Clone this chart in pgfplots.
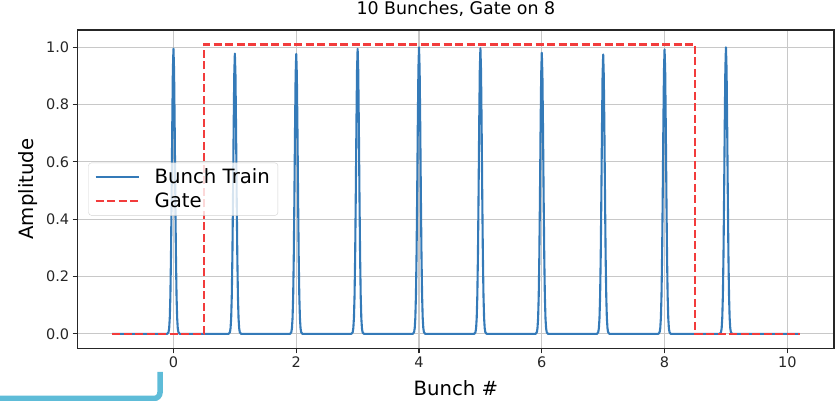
\documentclass[border=0pt]{standalone}
\usepackage{pgfplots}
\pgfplotsset{compat=1.18}
\usepackage{fontspec}
\setmainfont{DejaVu Sans}
\definecolor{bt}{RGB}{52,122,184}
\definecolor{gt}{RGB}{242,60,60}
\definecolor{gridc}{RGB}{200,200,200}
\definecolor{hl}{RGB}{94,188,216}
\begin{document}
\begin{tikzpicture}[x=1pt,y=1pt]
\path[use as bounding box] (0,0) rectangle (839,401);
\draw[hl, line width=5.5pt, rounded corners=6pt] (-5,2.5) -- (160,2.5) -- (160,29);
\begin{axis}[
 at={(77.7pt,52.7pt)}, anchor=south west,
 scale only axis, width=756.3pt, height=318.3pt,
 xmin=-1.56, xmax=10.76, ymin=-0.0505, ymax=1.0605,
 xtick={0,2,4,6,8,10}, ytick={0,0.2,0.4,0.6,0.8,1},
 yticklabel style={/pgf/number format/.cd, fixed, fixed zerofill, precision=1},
 /pgf/number format/assume math mode=true,
 tick label style={font=\fontsize{14.5}{17}\selectfont, color=black!85},
 tick align=outside, major tick length=5pt,
 tick style={black!85, line width=1.1pt},
 xtick pos=left, ytick pos=left,
 axis line style={black!85, line width=1.1pt},
 grid=major, major grid style={gridc, line width=1.1pt},
 title={10 Bunches, Gate on 8},
 title style={at={(axis description cs:0.5,1.0292)}, anchor=base, font=\fontsize{17.4}{20}\selectfont},
 xlabel={Bunch \#},
 xlabel style={at={(axis description cs:0.5,-0.1478)}, anchor=base, font=\fontsize{19.7}{23}\selectfont},
 ylabel={Amplitude},
 ylabel style={at={(axis description cs:-0.0591,0.5)}, anchor=base, font=\fontsize{19.7}{23}\selectfont},
 legend style={at={(axis description cs:0.014,0.5)}, anchor=west, draw=gridc!80, rounded corners=3pt,
   fill=white, fill opacity=0.8, text opacity=1, font=\fontsize{19.7}{23}\selectfont,
   inner xsep=6pt, inner ysep=4pt, row sep=4pt,
   /tikz/every odd column/.append style={column sep=13pt}},
 legend cell align=left,
 legend image code/.code={\draw[#1] (0pt,0pt) -- (43pt,0pt);},
]
\addplot[bt, line width=2.1pt, line join=round] coordinates {
(-1,0)
(-0.1,0)(-0.08,0.006)(-0.07,0.020)(-0.06,0.056)(-0.05,0.134)(-0.04,0.277)(-0.03,0.485)(-0.02,0.722)(-0.01,0.918)(0,0.995)(0.01,0.918)(0.02,0.722)(0.03,0.485)(0.04,0.277)(0.05,0.134)(0.06,0.056)(0.07,0.020)(0.08,0.006)(0.1,0)
(0.9,0)(0.92,0.006)(0.93,0.020)(0.94,0.055)(0.95,0.132)(0.96,0.272)(0.97,0.476)(0.98,0.710)(0.99,0.903)(1,0.978)(1.01,0.903)(1.02,0.710)(1.03,0.476)(1.04,0.272)(1.05,0.132)(1.06,0.055)(1.07,0.020)(1.08,0.006)(1.1,0)
(1.9,0)(1.92,0.006)(1.93,0.020)(1.94,0.055)(1.95,0.132)(1.96,0.272)(1.97,0.476)(1.98,0.709)(1.99,0.902)(2,0.977)(2.01,0.902)(2.02,0.709)(2.03,0.476)(2.04,0.272)(2.05,0.132)(2.06,0.055)(2.07,0.020)(2.08,0.006)(2.1,0)
(2.9,0)(2.92,0.006)(2.93,0.020)(2.94,0.056)(2.95,0.134)(2.96,0.277)(2.97,0.485)(2.98,0.722)(2.99,0.918)(3,0.995)(3.01,0.918)(3.02,0.722)(3.03,0.485)(3.04,0.277)(3.05,0.134)(3.06,0.056)(3.07,0.020)(3.08,0.006)(3.1,0)
(3.9,0)(3.92,0.006)(3.93,0.020)(3.94,0.056)(3.95,0.135)(3.96,0.278)(3.97,0.487)(3.98,0.726)(3.99,0.923)(4,1.000)(4.01,0.923)(4.02,0.726)(4.03,0.487)(4.04,0.278)(4.05,0.135)(4.06,0.056)(4.07,0.020)(4.08,0.006)(4.1,0)
(4.9,0)(4.92,0.006)(4.93,0.020)(4.94,0.056)(4.95,0.135)(4.96,0.277)(4.97,0.486)(4.98,0.724)(4.99,0.920)(5,0.997)(5.01,0.920)(5.02,0.724)(5.03,0.486)(5.04,0.277)(5.05,0.135)(5.06,0.056)(5.07,0.020)(5.08,0.006)(5.1,0)
(5.9,0)(5.92,0.006)(5.93,0.020)(5.94,0.055)(5.95,0.132)(5.96,0.273)(5.97,0.478)(5.98,0.712)(5.99,0.905)(6,0.981)(6.01,0.905)(6.02,0.712)(6.03,0.478)(6.04,0.273)(6.05,0.132)(6.06,0.055)(6.07,0.020)(6.08,0.006)(6.1,0)
(6.9,0)(6.92,0.006)(6.93,0.020)(6.94,0.055)(6.95,0.132)(6.96,0.271)(6.97,0.475)(6.98,0.708)(6.99,0.900)(7,0.975)(7.01,0.900)(7.02,0.708)(7.03,0.475)(7.04,0.271)(7.05,0.132)(7.06,0.055)(7.07,0.020)(7.08,0.006)(7.1,0)
(7.9,0)(7.92,0.006)(7.93,0.020)(7.94,0.056)(7.95,0.134)(7.96,0.276)(7.97,0.484)(7.98,0.721)(7.99,0.917)(8,0.993)(8.01,0.917)(8.02,0.721)(8.03,0.484)(8.04,0.276)(8.05,0.134)(8.06,0.056)(8.07,0.020)(8.08,0.006)(8.1,0)
(8.9,0)(8.92,0.006)(8.93,0.020)(8.94,0.056)(8.95,0.135)(8.96,0.278)(8.97,0.487)(8.98,0.726)(8.99,0.923)(9,1.000)(9.01,0.923)(9.02,0.726)(9.03,0.487)(9.04,0.278)(9.05,0.135)(9.06,0.056)(9.07,0.020)(9.08,0.006)(9.1,0)
(10.2,0)
};
\addlegendentry{Bunch Train}
\addplot[gt, line width=2.1pt, dash pattern=on 8pt off 3.5pt] coordinates {
(-1,0)(0.5,0)(0.5,1.01)(8.5,1.01)(8.5,0)(10.2,0)
};
\addlegendentry{Gate}
\end{axis}
\end{tikzpicture}
\end{document}
